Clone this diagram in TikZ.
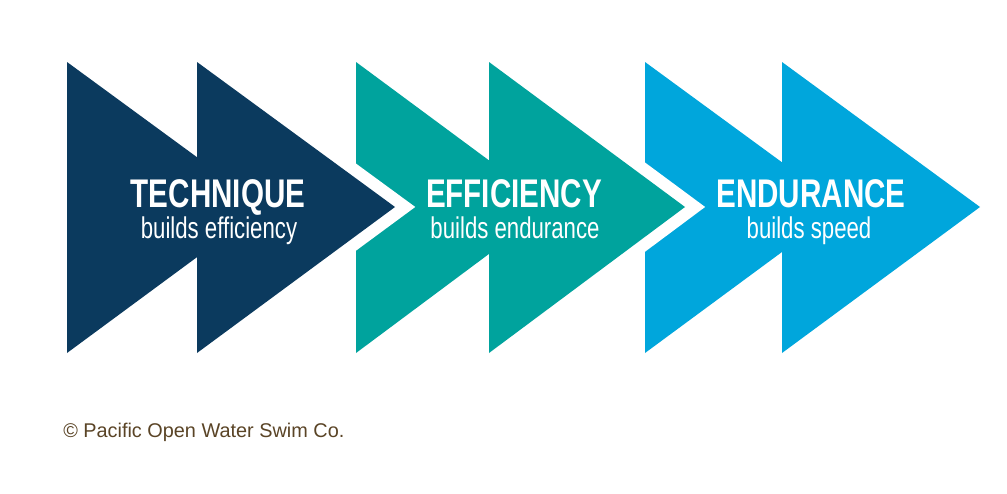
\documentclass[tikz,border=0pt]{standalone}
\usepackage{fontspec}
\setmainfont{Liberation Sans}
\newfontfamily\condfont[FakeStretch=0.74]{Liberation Sans}
\definecolor{navyblue}{HTML}{0B3A5E}
\definecolor{tealgreen}{HTML}{00A39D}
\definecolor{skyblue}{HTML}{00A6DC}
\definecolor{creditbrown}{HTML}{5A4426}
\begin{document}
\begin{tikzpicture}[x=0.75pt, y=-0.75pt,
  chevron/.style={line join=miter, preaction={draw=white, line width=18pt, line join=miter}},
  heading/.style={anchor=base, text=white, font=\condfont\bfseries\fontsize{30}{30}\selectfont, inner sep=0pt},
  subline/.style={anchor=base, text=white, font=\condfont\fontsize{22.5}{22.5}\selectfont, inner sep=0pt},
  credit/.style={anchor=base west, text=creditbrown, font=\fontsize{14.9}{14.9}\selectfont, inner sep=0pt}]
  \useasboundingbox (0,0) rectangle (1007,493);
  % endurance, back
  \fill[skyblue, chevron] (645,62) -- (843,207) -- (645,353) -- cycle
    (782,62) -- (980,207) -- (782,353) -- cycle;
  % efficiency
  \fill[tealgreen, chevron] (356,62) -- (552,207) -- (356,353) -- cycle
    (489,62) -- (685,207) -- (489,353) -- cycle;
  % technique, front
  \fill[navyblue, chevron] (67,62) -- (265,207) -- (67,353) -- cycle
    (197,62) -- (395,207) -- (197,353) -- cycle;
  \node[heading] (technique) at (218,207) {TECHNIQUE};
  \node[subline] (technique-sub) at (219,238) {builds efficiency};
  \node[heading] (efficiency) at (514,207) {EFFICIENCY};
  \node[subline] (efficiency-sub) at (515,238) {builds endurance};
  \node[heading] (endurance) at (811,207) {ENDURANCE};
  \node[subline] (endurance-sub) at (809,238) {builds speed};
  \node[credit] (copyright) at (63,437) {© Pacific Open Water Swim Co.};
\end{tikzpicture}
\end{document}
